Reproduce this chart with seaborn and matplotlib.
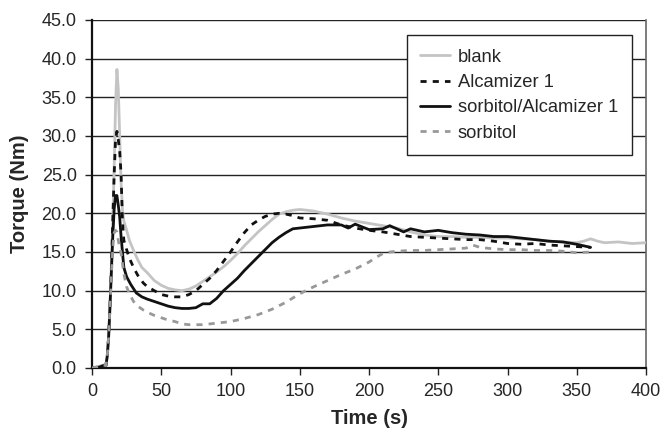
import matplotlib
matplotlib.use("Agg")
import matplotlib.pyplot as plt
import seaborn as sns
import pandas as pd
import numpy as np

# ---- data ----
t_blank = [0, 5, 8, 10, 11, 12, 13, 14, 15, 16, 17, 18, 19, 20, 21, 22, 23, 25, 27, 30, 33, 36, 40, 45, 50, 55, 60, 65, 70, 75, 80, 85, 90, 95, 100, 105, 110, 115, 120, 125, 130, 135, 140, 145, 150, 155, 160, 170, 180, 190, 200, 210, 220, 230, 240, 250, 260, 270, 280, 290, 300, 310, 320, 330, 340, 350, 355, 360, 365, 370, 380, 390, 400]
v_blank = [0, 0.2, 0.4, 0.3, 1.5, 4, 8, 13, 19, 26, 34, 38.6, 36, 30, 24, 20.5, 19, 17.8, 16.5, 15.2, 14, 13, 12.3, 11.3, 10.7, 10.3, 10.1, 10.0, 10.2, 10.6, 11.2, 11.8, 12.4, 13.1, 13.9, 14.8, 15.8, 16.7, 17.6, 18.4, 19.2, 19.9, 20.2, 20.4, 20.5, 20.4, 20.3, 19.9, 19.4, 19.0, 18.7, 18.4, 18.1, 17.6, 17.2, 17.0, 17.0, 16.9, 16.9, 16.8, 16.8, 16.7, 16.6, 16.4, 16.3, 16.2, 16.4, 16.7, 16.4, 16.2, 16.3, 16.1, 16.2]

t_alc = [0, 5, 8, 10, 11, 12, 13, 14, 15, 16, 17, 18, 19, 20, 21, 22, 23, 25, 27, 30, 33, 37, 40, 45, 50, 55, 60, 65, 70, 75, 80, 85, 90, 95, 100, 105, 110, 115, 120, 125, 130, 135, 140, 145, 150, 160, 170, 180, 190, 200, 210, 220, 230, 240, 250, 260, 270, 280, 290, 300, 310, 320, 330, 340, 350, 360]
v_alc = [0, 0.1, 0.3, 0.3, 1.5, 4, 8, 13, 19, 25, 29.5, 30.6, 29.5, 28, 25, 19, 16.5, 15.3, 14.2, 13, 12, 11, 10.5, 10, 9.5, 9.3, 9.2, 9.2, 9.5, 10, 10.8, 11.6, 12.6, 13.8, 15, 16.3, 17.5, 18.5, 19.1, 19.6, 19.9, 20.0, 19.9, 19.7, 19.4, 19.3, 19.1, 18.5, 18.1, 17.8, 17.6, 17.3, 17.0, 16.9, 16.8, 16.7, 16.6, 16.6, 16.4, 16.1, 16.0, 16.1, 15.9, 15.8, 15.7, 15.6]

t_mix = [0, 5, 8, 10, 11, 12, 13, 14, 15, 16, 17, 18, 19, 20, 21, 22, 23, 25, 28, 32, 36, 40, 45, 50, 55, 60, 65, 70, 75, 80, 85, 90, 95, 100, 105, 110, 115, 120, 125, 130, 135, 140, 145, 150, 160, 170, 180, 185, 190, 200, 210, 215, 220, 225, 230, 240, 250, 260, 270, 280, 290, 300, 310, 320, 330, 340, 350, 360]
v_mix = [0, 0.1, 0.3, 0.3, 1.5, 4, 8, 12.5, 17, 20.5, 22.3, 22.3, 21, 19.5, 17, 15, 13, 11.8, 10.8, 9.7, 9.2, 8.9, 8.6, 8.3, 8.0, 7.8, 7.7, 7.7, 7.8, 8.3, 8.3, 9.0, 10.0, 10.8, 11.6, 12.6, 13.5, 14.4, 15.3, 16.2, 16.9, 17.5, 18.0, 18.1, 18.3, 18.5, 18.5, 18.1, 18.6, 17.9, 18.0, 18.4, 18.0, 17.6, 18.0, 17.6, 17.8, 17.5, 17.3, 17.2, 17.0, 17.0, 16.8, 16.6, 16.4, 16.3, 16.0, 15.6]

t_sorb = [0, 5, 8, 10, 11, 12, 13, 14, 15, 16, 17, 18, 19, 20, 21, 22, 23, 25, 27, 30, 33, 37, 40, 45, 50, 55, 60, 65, 70, 75, 80, 85, 90, 95, 100, 110, 120, 130, 140, 150, 160, 170, 180, 190, 200, 205, 210, 215, 220, 230, 240, 250, 260, 270, 275, 280, 290, 300, 310, 320, 330, 340, 350, 360]
v_sorb = [0, 0.2, 0.4, 0.3, 1.5, 4, 8, 12, 15.5, 17.5, 17.8, 17.6, 16.5, 15.5, 14.8, 13.5, 12.2, 10.5, 9.6, 8.6, 8.0, 7.5, 7.2, 6.8, 6.5, 6.2, 6.0, 5.7, 5.6, 5.6, 5.6, 5.7, 5.8, 5.9, 6.0, 6.4, 6.9, 7.6, 8.5, 9.6, 10.5, 11.3, 12.1, 12.8, 13.7, 14.3, 14.8, 15.0, 15.1, 15.2, 15.2, 15.3, 15.4, 15.5, 15.9, 15.6, 15.4, 15.3, 15.3, 15.2, 15.2, 15.1, 14.9, 15.0]

labels = ["blank", "Alcamizer 1", "sorbitol/Alcamizer 1", "sorbitol"]
x_ticks = [0, 50, 100, 150, 200, 250, 300, 350, 400]
y_ticks = [0, 5, 10, 15, 20, 25, 30, 35, 40, 45]

sns.set_theme(style="white")
plt.rcParams['font.family'] = ['Liberation Sans', 'DejaVu Sans']

fig = plt.figure(figsize=(6.63, 4.28), dpi=100)
ax = fig.add_axes([92/663, 1-368/428, 554/663, 348/428])

series = [
    (t_blank, v_blank, labels[0], "#c4c4c4", "-"),
    (t_alc, v_alc, labels[1], "#111111", (0, (2.2, 2.2))),
    (t_mix, v_mix, labels[2], "#111111", "-"),
    (t_sorb, v_sorb, labels[3], "#999999", (0, (2.2, 2.2))),
]

for y in y_ticks:
    ax.axhline(y, color="#222222", lw=1.0, zorder=0)

for t, v, lab, col, ls in series:
    df = pd.DataFrame({"t": t, "v": v})
    sns.lineplot(data=df, x="t", y="v", ax=ax, color=col, lw=2.0,
                 linestyle=ls, label=lab, zorder=3)

ax.set_xlim(0, 400)
ax.set_ylim(0, 45)
ax.set_xticks(x_ticks)
ax.set_yticks(y_ticks)
ax.set_yticklabels([f"{y:.1f}" for y in y_ticks])
ax.set_xticklabels([str(x) for x in x_ticks])
ax.tick_params(axis="both", labelsize=13, direction="out", length=5,
               width=1, color="#222222", bottom=True, left=True)
ax.tick_params(axis="x", pad=6)
ax.tick_params(axis="y", pad=6)
ax.set_xlabel("Time (s)", fontsize=14.5, fontweight="bold", labelpad=6)
ax.set_ylabel("Torque (Nm)", fontsize=14.5, fontweight="bold", labelpad=9)

for side in ["left", "bottom"]:
    ax.spines[side].set_color("#111111")
    ax.spines[side].set_linewidth(1.6)
ax.spines["top"].set_visible(False)
ax.spines["right"].set_color("#666666")
ax.spines["right"].set_linewidth(1.2)

leg = ax.legend(loc="upper right", bbox_to_anchor=((632-92)/554, (368-35)/348),
                borderaxespad=0, fontsize=13.2, frameon=True, fancybox=False,
                handlelength=1.6, handletextpad=0.45, labelspacing=0.45,
                borderpad=0.75)
leg.get_frame().set_edgecolor("#222222")
leg.get_frame().set_linewidth(1.0)
leg.get_frame().set_alpha(1)

fig.savefig("out.png", dpi=100)
